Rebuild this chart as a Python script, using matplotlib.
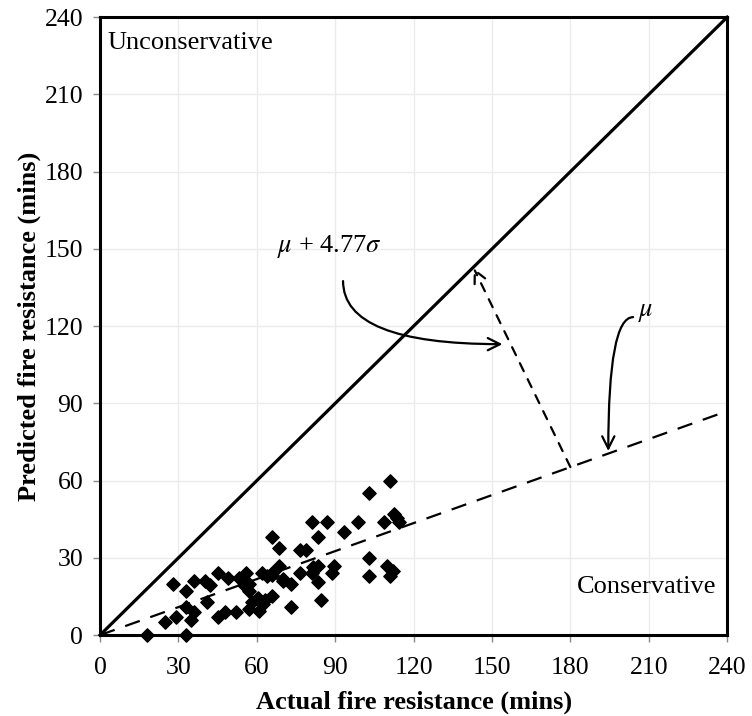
import matplotlib
matplotlib.use("Agg")
import matplotlib.pyplot as plt
import numpy as np

plt.rcParams['font.family'] = ['Liberation Serif', 'DejaVu Serif']
plt.rcParams['mathtext.fontset'] = 'stix'

actual = [18, 33, 25, 29, 28, 33, 33, 36, 35, 36, 40, 42, 41, 45, 45, 49, 48, 52, 53, 56,
          55, 57, 57, 58, 57, 60, 61, 62.5, 62, 64, 66, 68.5, 66, 68.5, 70, 66, 73, 73, 76.5, 79,
          76.5, 81, 87, 83.5, 81.4, 83.6, 81, 83.6, 84.5, 88.7, 89.7, 103, 98.6, 93.5, 108.7, 112.5,
          113.5, 114.5, 103, 103, 110, 112, 111, 111, 60.6, 63.2, 61.9, 65.7, 70.2, 55.5]
predicted = [0, 0, 5, 7, 20, 17, 11, 9, 6, 21, 21, 19.5, 13, 24, 7, 22, 9, 9, 22, 24,
             19.5, 20, 17, 13, 10, 14, 9.5, 12, 24, 23, 38, 34, 24, 27, 21, 15, 20, 11, 33, 33,
             24, 44, 44, 38, 26.5, 27, 24, 20.5, 13.5, 24, 27, 55, 44, 40, 44, 47,
             45.5, 44, 30, 23, 27, 25, 23, 60, 14.3, 13.7, 13, 23.4, 21.7, 21]

axis_max = 240
mean_ratio = 0.3625
ticks = [0, 30, 60, 90, 120, 150, 180, 210, 240]

fig = plt.figure(figsize=(7.52, 7.16), dpi=100)
ax = fig.add_axes([0.133, 0.113, 0.834, 0.863])

ax.set_xlim(0, axis_max)
ax.set_ylim(0, axis_max)
ax.set_xticks(ticks)
ax.set_yticks(ticks)
ax.grid(True, color='#ebebeb', linewidth=1.0, zorder=0)
ax.set_axisbelow(True)

ax.plot([0, axis_max], [0, axis_max], color='black', linewidth=2.3, zorder=3, clip_on=False)
ax.plot([0, axis_max], [0, axis_max * mean_ratio], color='black', linewidth=1.6,
        linestyle=(0, (7, 5)), zorder=3)
ax.scatter(actual, predicted, marker='D', s=46, color='black', zorder=4, clip_on=False)

# perpendicular dashed arrow between mu line and 1:1 line
ax.annotate('', xy=(143, 142.5), xytext=(180, 180 * mean_ratio),
            arrowprops=dict(arrowstyle='->', color='black', lw=1.6, linestyle=(0, (4, 4)),
                            mutation_scale=22, shrinkA=0, shrinkB=0), zorder=5)

ax.annotate('', xy=(154, 113), xytext=(93, 137.5),
            arrowprops=dict(arrowstyle='->', color='black', lw=1.6, mutation_scale=22,
                            shrinkA=0, shrinkB=0,
                            connectionstyle='angle3,angleA=90,angleB=0'), zorder=5)
ax.text(88, 151, r'$\mu$ + 4.77$\sigma$', fontsize=19, ha='center', va='center')

ax.annotate('', xy=(194.5, 71.5), xytext=(204, 123.5),
            arrowprops=dict(arrowstyle='->', color='black', lw=1.6, mutation_scale=22,
                            shrinkA=0, shrinkB=0,
                            connectionstyle='angle3,angleA=0,angleB=90'), zorder=5)
ax.text(206, 125, r'$\mu$', fontsize=19, ha='left', va='center')

ax.text(3, 230, 'Unconservative', fontsize=19, ha='left', va='center')
ax.text(236, 18.5, 'Conservative', fontsize=19, ha='right', va='center')

for s in ax.spines.values():
    s.set_linewidth(2.2)
    s.set_color('black')

ax.tick_params(axis='both', direction='out', length=5, width=1, color='#888888',
               labelsize=18.5)
ax.tick_params(axis='x', pad=11)
ax.tick_params(axis='y', pad=7)
ax.set_xlabel('Actual fire resistance (mins)', fontsize=19, fontweight='bold', labelpad=8)
ax.set_ylabel('Predicted fire resistance (mins)', fontsize=19, fontweight='bold', labelpad=3)

fig.savefig('out.png', dpi=100)
